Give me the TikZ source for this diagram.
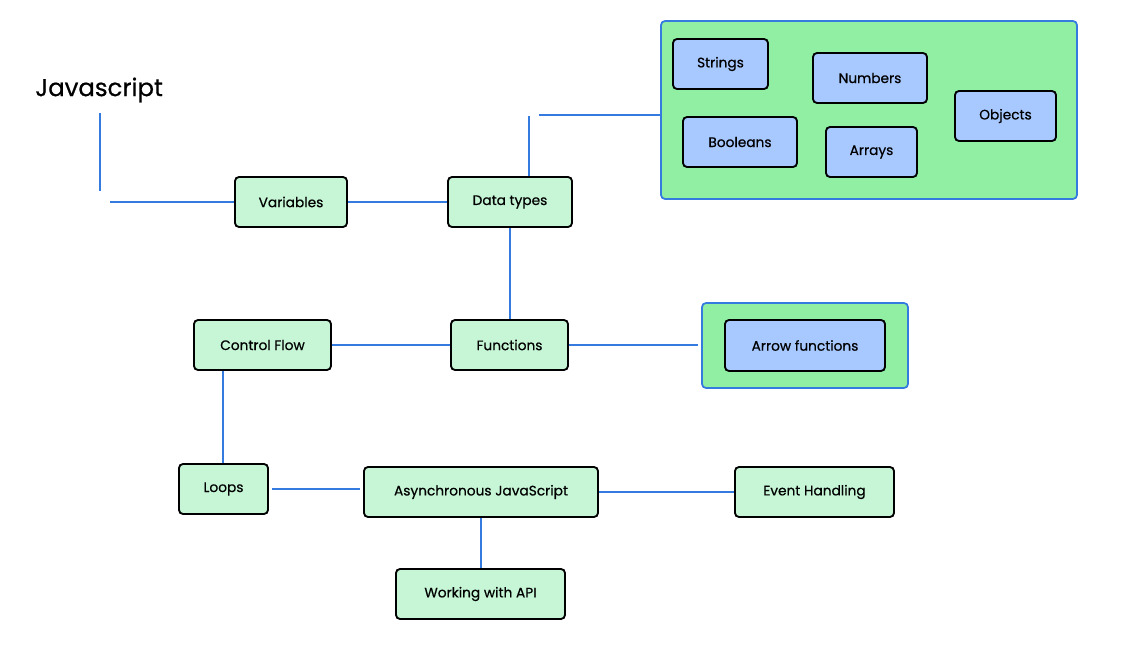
\documentclass[tikz,border=0pt]{standalone}
\usepackage{fontspec}
\setmainfont{Poppins}[FakeBold=0.6,BoldFont=*]
\definecolor{lineblue}{RGB}{53,122,222}
\definecolor{nodegreen}{RGB}{198,246,214}
\definecolor{groupgreen}{RGB}{144,239,163}
\definecolor{itemblue}{RGB}{168,201,255}
\begin{document}
\begin{tikzpicture}[x=0.75pt,y=-0.75pt,
  topic/.style={draw=black,line width=1.4pt,rounded corners=3pt,fill=nodegreen,minimum height=37.5pt,inner sep=0pt,font=\fontsize{10.3}{12}\selectfont},
  item/.style={topic,fill=itemblue},
  group/.style={draw=lineblue,line width=1.3pt,rounded corners=3pt,fill=groupgreen,inner sep=0pt},
  link/.style={draw=lineblue,line width=1.6pt}]
\useasboundingbox (0,0) rectangle (1140,659);
\fill[white] (0,0) rectangle (1140,659);
% title
\node[anchor=west,inner sep=0pt,font=\fontsize{18.3}{21}\selectfont] (js) at (35,90) {Javascript};
% groups
\node[group,minimum width=312pt,minimum height=133.5pt] (g1) at (869,110) {};
\node[group,minimum width=154.5pt,minimum height=63.75pt] (g2) at (805,345.5) {};
% main topics
\node[topic,minimum width=84pt] (var) at (291,202) {Variables};
\node[topic,minimum width=93pt] (dt) at (510,202) {Data types};
\node[topic,minimum width=87.75pt] (fn) at (509.5,345) {Functions};
\node[topic,minimum width=102.75pt] (cf) at (262.5,345) {Control Flow};
\node[topic,minimum width=66.75pt] (loops) at (223.5,489) {Loops};
\node[topic,minimum width=175.5pt] (async) at (481,492) {Asynchronous JavaScript};
\node[topic,minimum width=119.25pt] (event) at (814.5,492) {Event Handling};
\node[topic,minimum width=126.75pt] (api) at (480.5,594) {Working with API};
% data type items
\node[item,minimum width=71.25pt] (str) at (720.5,64) {Strings};
\node[item,minimum width=85.5pt] (num) at (870,78) {Numbers};
\node[item,minimum width=85.5pt] (bool) at (740,142) {Booleans};
\node[item,minimum width=68.25pt] (arr) at (871.5,152) {Arrays};
\node[item,minimum width=75.75pt] (obj) at (1005.5,116) {Objects};
\node[item,minimum width=120pt,minimum height=38.25pt] (arrow) at (805,345.5) {Arrow functions};
% free ends
\coordinate (jsdown) at (100,113);
\coordinate (jscorner) at (100,191);
\coordinate (varleft) at (110,202);
\coordinate (dtup) at (529,116);
\coordinate (g1in) at (539,115);
\coordinate (g2in) at (698,345);
\coordinate (loopsr) at (272,489);
\coordinate (asyncl) at (360,489);
% connectors
\draw[link] (jsdown) -- (jscorner);
\draw[link] (varleft) -- (var.west);
\draw[link] (var.east) -- (dt.west);
\draw[link] (dt.north -| dtup) -- (dtup);
\draw[link] (g1in) -- (g1.west |- g1in);
\draw[link] (dt.south) -- (fn.north -| dt.south);
\draw[link] (cf.east) -- (fn.west);
\draw[link] (fn.east) -- (g2in);
\draw[link] (cf.south -| 223,0) -- (loops.north -| 223,0);
\draw[link] (loopsr) -- (asyncl);
\draw[link] (async.east) -- (event.west);
\draw[link] (async.south) -- (api.north -| async.south);
\end{tikzpicture}
\end{document}
